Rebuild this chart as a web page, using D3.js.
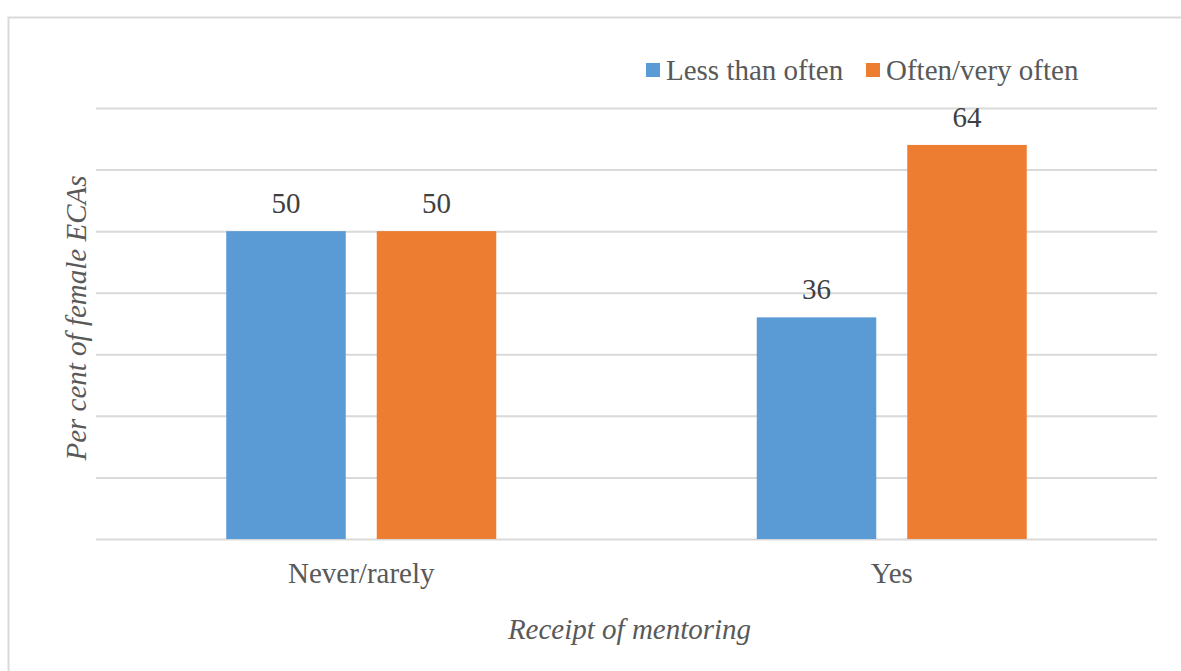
<!DOCTYPE html>
<html>
<head>
<meta charset="utf-8">
<script src="https://cdn.jsdelivr.net/npm/d3@7/dist/d3.min.js"></script>
<style>
  html, body { margin: 0; padding: 0; background: #fff; }
  svg text { font-family: "Liberation Serif", "Tinos", "Times New Roman", "DejaVu Serif", "Noto Serif", serif !important; }
</style>
</head>
<body>
<svg id="chart" width="1181" height="671"></svg>
<script>
// Data
const categories = ["Never/rarely", "Yes"];
const seriesNames = ["Less than often", "Often/very often"];
const lessThanOften = [50, 36];
const oftenVeryOften = [50, 64];
const yTicks = [0, 10, 20, 30, 40, 50, 60, 70];
const seriesColors = ["#5b9bd5", "#ed7d31"];

const seriesValues = [lessThanOften, oftenVeryOften];
const rows = categories.map((c, i) => ({
  category: c,
  values: seriesNames.map((s, j) => ({ series: s, value: seriesValues[j][i], color: seriesColors[j] }))
}));

const fontSize = 29;
const svg = d3.select("#chart");

// Chart frame (top and left edges visible)
svg.append("rect")
  .attr("x", 8.5).attr("y", 17.5)
  .attr("width", 1200).attr("height", 700)
  .attr("fill", "none").attr("stroke", "#d9d9d9").attr("stroke-width", 2);

const plot = { left: 96, right: 1157, top: 108, bottom: 539 };

const y = d3.scaleLinear().domain([0, 70]).range([plot.bottom, plot.top]);
const x0 = d3.scaleBand().domain(categories).range([plot.left, plot.right]).padding(0);
const groupWidth = 270;
const x1 = d3.scaleBand().domain(seriesNames).range([0, groupWidth]).paddingInner(0.206).paddingOuter(0);
const groupOffset = (x0.bandwidth() - groupWidth) / 2;

// Gridlines
const yAxis = d3.axisLeft(y).tickValues(yTicks).tickSize(-(plot.right - plot.left)).tickFormat("");
const gy = svg.append("g").attr("transform", `translate(${plot.left},0)`).call(yAxis);
gy.select(".domain").remove();
gy.selectAll(".tick line").attr("stroke", "#d9d9d9").attr("stroke-width", 2);

// Bars
const groups = svg.append("g").selectAll("g")
  .data(rows).join("g")
  .attr("transform", d => `translate(${x0(d.category) + groupOffset},0)`);

groups.selectAll("rect")
  .data(d => d.values).join("rect")
  .attr("x", d => x1(d.series))
  .attr("width", x1.bandwidth())
  .attr("y", d => y(d.value))
  .attr("height", d => y(0) - y(d.value))
  .attr("fill", d => d.color);

// Data labels
groups.selectAll("text")
  .data(d => d.values).join("text")
  .attr("x", d => x1(d.series) + x1.bandwidth() / 2)
  .attr("y", d => y(d.value) - 18)
  .attr("text-anchor", "middle")
  .attr("font-size", fontSize)
  .attr("fill", "#404040")
  .text(d => d.value);

// Category axis labels
const xAxis = d3.axisBottom(x0).tickSize(0).tickPadding(23);
const gx = svg.append("g").attr("transform", `translate(0,${plot.bottom})`).call(xAxis);
gx.select(".domain").remove();
gx.selectAll("text")
  .attr("font-size", fontSize).attr("fill", "#595959")
  .attr("dy", "0.71em");

// Axis titles
svg.append("text")
  .attr("x", (plot.left + plot.right) / 2 + 3).attr("y", 639)
  .attr("text-anchor", "middle").attr("font-style", "italic")
  .attr("font-size", fontSize).attr("fill", "#595959")
  .text("Receipt of mentoring");

svg.append("text")
  .attr("transform", "translate(86,318) rotate(-90)")
  .attr("text-anchor", "middle").attr("font-style", "italic")
  .attr("font-size", fontSize).attr("fill", "#595959")
  .text("Per cent of female ECAs");

// Legend
const legendX = [646, 866];
const legend = svg.append("g").selectAll("g")
  .data(seriesNames).join("g")
  .attr("transform", (d, i) => `translate(${legendX[i]},63)`);
legend.append("rect")
  .attr("width", 14).attr("height", 14)
  .attr("fill", (d, i) => seriesColors[i]);
legend.append("text")
  .attr("x", 20).attr("y", 17)
  .attr("font-size", fontSize).attr("fill", "#595959")
  .text(d => d);
</script>
</body>
</html>
